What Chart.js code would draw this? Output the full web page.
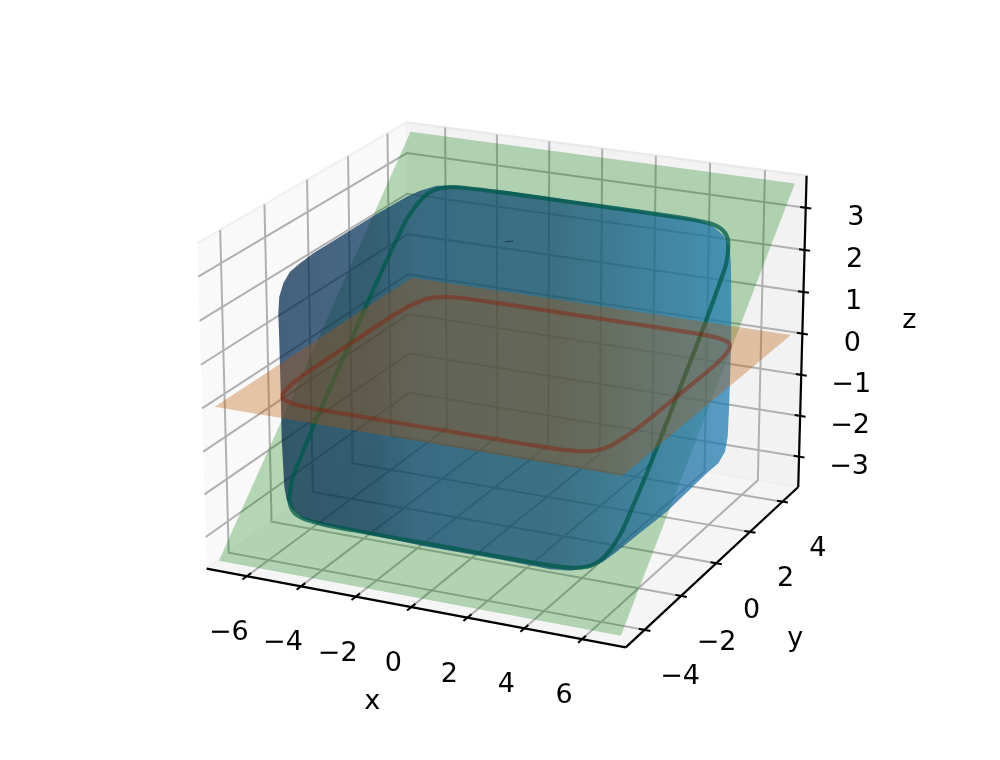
<!DOCTYPE html>
<html>
<head>
<meta charset="utf-8">
<title>Superquadric sections</title>
<script src="https://cdn.jsdelivr.net/npm/chart.js@4"></script>
<style>
  html, body { margin: 0; padding: 0; background: #fff; }
  canvas { display: block; }
</style>
</head>
<body>
<canvas id="chart" width="1000" height="760"></canvas>
<script>
// axis limits and ticks, in data units
const xLim = [-7.5, 7.5];
const yLim = [-5, 5];
const zLim = [-3.75, 3.75];
const xTicks = [-6, -4, -2, 0, 2, 4, 6];
const yTicks = [-4, -2, 0, 2, 4];
const zTicks = [-3, -2, -1, 0, 1, 2, 3];

// the two flat sheets, corners in data units
const flatPlaneX = [-7.2, 7.2, 7.2, -7.2];
const flatPlaneY = [-4.8, -4.8, 4.8, 4.8];
const flatPlaneZ = [0, 0, 0, 0];
const tiltPlaneX = [-7.2, 7.2, 7.2, -7.2];
const tiltPlaneY = [-4.8, -4.8, 4.8, 4.8];
const tiltPlaneZ = [-3.6, -3.6, 3.6, 3.6];

// curve where the body meets the flat sheet
const flatCurveX = [0, 3, 4.2, 4.8, 5.1, 5.35, 5.55, 5.68, 5.8, 5.86, 5.94, 6, 6, 6, 5.94, 5.86, 5.8, 5.68, 5.55, 5.35, 5.1, 4.8, 4.2, 3, 0, -3, -4.2, -4.8, -5.1, -5.35, -5.55, -5.68, -5.8, -5.86, -5.94, -6, -6, -6, -5.94, -5.86, -5.8, -5.68, -5.55, -5.35, -5.1, -4.8, -4.2, -3, 0];
const flatCurveY = [4, 4, 3.99, 3.95, 3.91, 3.83, 3.74, 3.6, 3.4, 3.2, 2.8, 2, 0, -2, -2.8, -3.2, -3.4, -3.6, -3.74, -3.83, -3.91, -3.95, -3.99, -4, -4, -4, -3.99, -3.95, -3.91, -3.83, -3.74, -3.6, -3.4, -3.2, -2.8, -2, 0, 2, 2.8, 3.2, 3.4, 3.6, 3.74, 3.83, 3.91, 3.95, 3.99, 4, 4];

// curve where the body meets the tilted sheet
const tiltCurveX = [0, 3, 4.2, 4.8, 5.1, 5.36, 5.56, 5.7, 5.82, 5.9, 5.94, 6, 6, 6, 5.94, 5.9, 5.82, 5.7, 5.56, 5.36, 5.1, 4.8, 4.2, 3, 0, -3, -4.2, -4.8, -5.1, -5.36, -5.56, -5.7, -5.82, -5.9, -5.94, -6, -6, -6, -5.94, -5.9, -5.82, -5.7, -5.56, -5.36, -5.1, -4.8, -4.2, -3, 0];
const tiltCurveY = [3.73, 3.73, 3.72, 3.69, 3.65, 3.58, 3.48, 3.35, 3.15, 2.95, 2.76, 1.5, 0, -1.5, -2.76, -2.95, -3.15, -3.35, -3.48, -3.58, -3.65, -3.69, -3.72, -3.73, -3.73, -3.73, -3.72, -3.69, -3.65, -3.58, -3.48, -3.35, -3.15, -2.95, -2.76, -1.5, 0, 1.5, 2.76, 2.95, 3.15, 3.35, 3.48, 3.58, 3.65, 3.69, 3.72, 3.73, 3.73];
const tiltCurveZ = [2.8, 2.8, 2.79, 2.77, 2.74, 2.69, 2.61, 2.51, 2.36, 2.21, 2.07, 1.13, 0, -1.13, -2.07, -2.21, -2.36, -2.51, -2.61, -2.69, -2.74, -2.77, -2.79, -2.8, -2.8, -2.8, -2.79, -2.77, -2.74, -2.69, -2.61, -2.51, -2.36, -2.21, -2.07, -1.13, 0, 1.13, 2.07, 2.21, 2.36, 2.51, 2.61, 2.69, 2.74, 2.77, 2.79, 2.8, 2.8];

// body silhouette, already in the view plane
const bodyOutlineH = [-.05866, -.05841, -.05739, -.0557, -.05316, -.0498, -.04304, -.03461, -.02615, -.02278, -.01856, -.01349, -.00084, .02278, .03967, .0481, .05147, .054, .05552, .05595, .05603, .05595, .0557, .05544, .05511, .05443, .05273, .0498, .03967, .03122, .02701, .02362, .02025, .01519, .01013, -.00253, -.02195, -.04727, -.05233, -.05527, -.05653, -.05714, -.0578, -.05805, -.05841];
const bodyOutlineV = [.01435, .01856, .02195, .02489, .02701, .02954, .03375, .03899, .04387, .04539, .04665, .04665, .04534, .04192, .03939, .03794, .03628, .03418, .03122, .02701, .01519, .00506, -.00253, -.01013, -.01689, -.02068, -.02362, -.02615, -.03587, -.04261, -.046, -.04853, -.04995, -.0508, -.05045, -.04797, -.04455, -.03916, -.03764, -.03501, -.03291, -.02954, -.01772, -.0059, .00759];

// small dark blemish on the top of the body
const speckH = [-.0013, .0008];
const speckV = [.0325, .0326];

// camera, same idea as a 3d axes: elevation, azimuth, distance
const elev = 20 * Math.PI / 180;
const azim = -65 * Math.PI / 180;
const dist = 10;
const boxHalf = [0.5714, 0.5714, 0.4286];

function project(x, y, z) {
  const X = x / xLim[1] * boxHalf[0];
  const Y = y / yLim[1] * boxHalf[1];
  const Z = z / zLim[1] * boxHalf[2];
  const se = Math.sin(elev), ce = Math.cos(elev), sa = Math.sin(azim), ca = Math.cos(azim);
  const right = -sa * X + ca * Y;
  const up = -se * ca * X - se * sa * Y + ce * Z;
  const depth = ce * ca * X + ce * sa * Y + se * Z;
  return { x: right / (dist - depth), y: up / (dist - depth) };
}

const path3d = (xs, ys, zs) => xs.map((x, i) => project(x, ys[i], zs[i]));
const seg = (a, b) => [project(...a), project(...b)];

const GRID = '#b0b0b0';
const datasets = [];

function addPoly(data, fillColor, edge) {
  datasets.push({ data, polyFill: fillColor, showLine: !!edge, borderColor: edge || 'transparent', borderWidth: edge ? 2.4 : 0, pointRadius: 0 });
}
function addLine(data, color, width, tension) {
  datasets.push({ data, showLine: true, borderColor: color, borderWidth: width, pointRadius: 0, tension: tension || 0, fill: false });
}

// panes
const [x0, x1] = xLim, [y0, y1] = yLim, [z0, z1] = zLim;
addPoly(path3d([x0, x0, x0, x0], [y0, y1, y1, y0], [z0, z0, z1, z1]), '#f9f9f9', '#f1f1f1');
addPoly(path3d([x0, x1, x1, x0], [y1, y1, y1, y1], [z0, z0, z1, z1]), '#f2f2f2', '#e9e9e9');
addPoly(path3d([x0, x1, x1, x0], [y0, y0, y1, y1], [z0, z0, z0, z0]), '#f5f5f5', '#f0f0f0');

// grid
xTicks.forEach(t => addLine([project(t, y0, z0), project(t, y1, z0), project(t, y1, z1)], GRID, 2));
yTicks.forEach(t => addLine([project(x0, t, z1), project(x0, t, z0), project(x1, t, z0)], GRID, 2));
zTicks.forEach(t => addLine([project(x0, y0, t), project(x0, y1, t), project(x1, y1, t)], GRID, 2));

// tilted sheet, body, tilted curve, flat sheet, flat curve
addPoly(path3d(tiltPlaneX, tiltPlaneY, tiltPlaneZ), 'rgba(0,122,0,0.27)');
addPoly(bodyOutlineH.map((h, i) => ({ x: h, y: bodyOutlineV[i] })), 'body');
addLine(speckH.map((h, i) => ({ x: h, y: speckV[i] })), 'rgba(20,50,90,0.7)', 1.4);
addLine(path3d(tiltCurveX, tiltCurveY, tiltCurveZ), 'rgba(0,90,75,0.75)', 4.2, 0.2);
addPoly(path3d(flatPlaneX, flatPlaneY, flatPlaneZ), 'rgba(185,85,0,0.33)');
addLine(path3d(flatCurveX, flatCurveY, flatCurveX.map(() => 0)), 'rgba(140,30,10,0.44)', 4.2, 0.2);

// axis lines and tick marks
addLine([project(x0, y0, z0), project(x1, y0, z0)], '#000', 2.2);
addLine([project(x1, y0, z0), project(x1, y1, z0)], '#000', 2.2);
addLine([project(x1, y1, z0), project(x1, y1, z1)], '#000', 2.2);
xTicks.forEach(t => addLine(seg([t, y0 + .2, z0], [t, y0 - .2, z0]), '#000', 2));
yTicks.forEach(t => addLine(seg([x1 - .2, t, z0], [x1 + .2, t, z0]), '#000', 2));
zTicks.forEach(t => addLine(seg([x1 - .2, y1, t], [x1 + .2, y1, t]), '#000', 2));

// chart.js paints dataset 0 last, so flip to keep the painter's order above
datasets.reverse();

const minus = v => String(v).replace('-', '\u2212');

// fills closed outlines from the points the scales already placed
const polyFillPlugin = {
  id: 'polyFill',
  beforeDatasetDraw(chart, args) {
    const ds = chart.data.datasets[args.index];
    if (!ds.polyFill) return;
    const pts = args.meta.data, ctx = chart.ctx;
    ctx.save();
    ctx.beginPath();
    pts.forEach((p, i) => i ? ctx.lineTo(p.x, p.y) : ctx.moveTo(p.x, p.y));
    ctx.closePath();
    if (ds.polyFill === 'body') {
      const sx = chart.scales.x;
      const g = ctx.createLinearGradient(sx.getPixelForValue(-.058), 0, sx.getPixelForValue(.056), 0);
      g.addColorStop(0, 'rgba(0,38,76,0.72)');
      g.addColorStop(.2, 'rgba(2,48,88,0.72)');
      g.addColorStop(.31, 'rgba(10,68,112,0.72)');
      g.addColorStop(.62, 'rgba(15,76,115,0.72)');
      g.addColorStop(.72, 'rgba(18,88,132,0.72)');
      g.addColorStop(.85, 'rgba(24,105,158,0.72)');
      g.addColorStop(1, 'rgba(28,122,178,0.72)');
      ctx.fillStyle = g;
    } else {
      ctx.fillStyle = ds.polyFill;
    }
    ctx.fill();
    ctx.restore();
  }
};

// tick and axis labels, offset in pixels from their projected anchor
const labelPlugin = {
  id: 'labels3d',
  afterDraw(chart) {
    const ctx = chart.ctx, sx = chart.scales.x, sy = chart.scales.y;
    const put = (text, anchor, dx, dy) => {
      ctx.fillText(text, sx.getPixelForValue(anchor.x) + dx, sy.getPixelForValue(anchor.y) + dy);
    };
    ctx.save();
    ctx.fillStyle = '#000';
    ctx.font = '27px "DejaVu Sans"';
    ctx.textAlign = 'center';
    ctx.textBaseline = 'middle';
    xTicks.forEach(t => put(minus(t), project(t, y0, z0), -18, 57));
    yTicks.forEach(t => put(minus(t), project(x1, t, z0), 35.5, 47.5));
    zTicks.forEach(t => put(minus(t), project(x1, y1, t), 50, 10));
    put('x', project(0, y0, z0), -39, 95);
    put('y', project(x1, 0, z0), 79, 76);
    put('z', project(x1, y1, 0), 107, -13);
    ctx.restore();
  }
};

new Chart(document.getElementById('chart').getContext('2d'), {
  type: 'scatter',
  data: { datasets },
  options: {
    responsive: false,
    animation: false,
    layout: { padding: 0 },
    plugins: { legend: { display: false }, tooltip: { enabled: false } },
    scales: {
      // view plane limits that put the box where it sits in the figure
      x: { type: 'linear', display: false, min: -510 / 3950, max: 490 / 3950 },
      y: { type: 'linear', display: false, min: -390 / 3950, max: 370 / 3950 }
    }
  },
  plugins: [polyFillPlugin, labelPlugin]
});
</script>
</body>
</html>
